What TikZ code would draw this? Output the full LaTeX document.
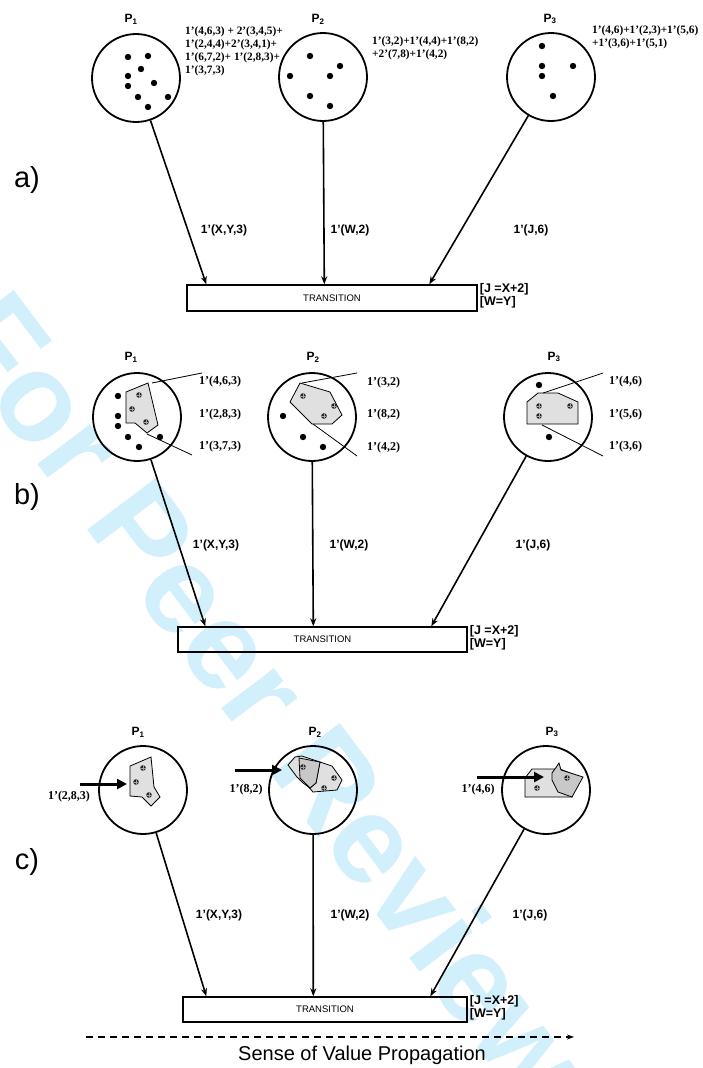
\documentclass[tikz,border=0pt]{standalone}
\usepackage{fontspec}
\setmainfont{Liberation Serif}
\setsansfont{Liberation Sans}
\usetikzlibrary{arrows.meta,calc}
\definecolor{wm}{RGB}{210,239,252}
\definecolor{shadeA}{RGB}{224,224,224}
\definecolor{shadeB}{RGB}{200,200,200}
\begin{document}
\begin{tikzpicture}[x=1pt,y=-1pt,
  place/.style={circle,draw,line width=1.8pt,minimum size=88pt,inner sep=0pt},
  trans/.style={draw,line width=1.4pt,minimum width=290pt,minimum height=26pt,inner sep=0pt,font=\sffamily\fontsize{9.5}{10}\selectfont},
  arcarrow/.style={line width=1.6pt,-{Stealth[length=8pt,width=6pt]}},
  bigarrow/.style={line width=3pt,-{Triangle[length=10pt,width=10pt]}},
  tok/.style={circle,fill=black,inner sep=0pt,minimum size=6.4pt},
  itok/.style={circle,fill=black!85,inner sep=0pt,minimum size=5.6pt,
    path picture={\draw[black!35,line width=0.5pt] (path picture bounding box.north) -- (path picture bounding box.south) (path picture bounding box.west) -- (path picture bounding box.east);}},
  poly/.style={draw,line width=0.8pt,fill=shadeA},
  polyd/.style={draw,line width=0.8pt,fill=shadeB},
  leader/.style={line width=0.8pt},
  pname/.style={font=\sffamily\bfseries\fontsize{12}{13}\selectfont},
  marking/.style={font=\bfseries\fontsize{11.3}{13}\selectfont,align=left,inner sep=0pt},
  albl/.style={font=\sffamily\bfseries\fontsize{12}{13}\selectfont,inner sep=0pt},
  guard/.style={font=\sffamily\bfseries\fontsize{12.5}{12.5}\selectfont,align=left,inner sep=0pt,anchor=north west},
  partlbl/.style={font=\sffamily\fontsize{29}{30}\selectfont,inner sep=0pt},
  tlbl/.style={font=\bfseries\fontsize{12}{13}\selectfont,inner sep=0pt,anchor=west},
  inlbl/.style={font=\bfseries\fontsize{12}{13}\selectfont,inner sep=0pt}
]
\useasboundingbox (0,0) rectangle (703,1068);
% watermark
\node[rotate=-53,text=wm,font=\sffamily\bfseries\fontsize{125}{125}\selectfont,inner sep=0pt] (wmark) at (269,697) {For Peer Review};

%================ a) ================
\node[partlbl] (la) at (27,180) {a)};
\node[place] (a1) at (136,78) {};
\node[place] (a2) at (323,77) {};
\node[place] (a3) at (551,77) {};
\node[pname] (pa1) at (131,19) {P\textsubscript{1}};
\node[pname] (pa2) at (318,19) {P\textsubscript{2}};
\node[pname] (pa3) at (550,19) {P\textsubscript{3}};
\foreach \p [count=\i] in {(128,57),(148,56),(141,69),(128,76),(154,83),(128,86),(138,97),(168,97),(148,107)}
  \node[tok] (da1\i) at \p {};
\foreach \p [count=\i] in {(310,56),(340,66),(290,76),(330,76),(310,96),(330,106)}
  \node[tok] (da2\i) at \p {};
\foreach \p [count=\i] in {(542,46),(542,66),(573,66),(542,76),(553,96)}
  \node[tok] (da3\i) at \p {};
\node[marking,anchor=north west] (ma1) at (185,26) {1’(4,6,3) + 2’(3,4,5)+\\1’(2,4,4)+2’(3,4,1)+\\1’(6,7,2)+ 1’(2,8,3)+\\1’(3,7,3)};
\node[marking,anchor=north west] (ma2) at (372,36) {1’(3,2)+1’(4,4)+1’(8,2)\\+2’(7,8)+1’(4,2)};
\node[marking,anchor=north west] (ma3) at (592,25) {1’(4,6)+1’(2,3)+1’(5,6)\\+1’(3,6)+1’(5,1)};
\node[trans] (ta) at (332,298) {TRANSITION};
\node[guard] (ga) at ([xshift=2pt,yshift=1pt]ta.north east) {{[J =X+2]}\\{[W=Y]}};
\draw[arcarrow] (a1) -- ([xshift=20pt]ta.north west);
\draw[arcarrow] (a2) -- ([xshift=138pt]ta.north west);
\draw[arcarrow] (a3) -- ([xshift=243pt]ta.north west);
\node[albl] (xa1) at (224,230) {1’(X,Y,3)};
\node[albl] (xa2) at (350,230) {1’(W,2)};
\node[albl] (xa3) at (531,230) {1’(J,6)};

%================ b) ================
\node[partlbl] (lb) at (27,497) {b)};
\node[place] (b1) at (137,417) {};
\node[place] (b2) at (312,417) {};
\node[place] (b3) at (548,417) {};
\node[pname] (pb1) at (131,357) {P\textsubscript{1}};
\node[pname] (pb2) at (313,357) {P\textsubscript{2}};
\node[pname] (pb3) at (554,357) {P\textsubscript{3}};
% P1
\draw[poly] (126,392) -- (148,383) -- (158,425) -- (147,433) -- (135,423) -- (126,423) -- cycle;
\foreach \p [count=\i] in {(139,395),(132,409),(146,422)} \node[itok] (ib1\i) at \p {};
\foreach \p [count=\i] in {(118,396),(118,416),(118,426),(128,437),(139,447),(160,437)} \node[tok] (db1\i) at \p {};
\draw[leader] (152,383) -- (202,373);
\draw[leader] (147,434) -- (192,455);
\node[tlbl] (tb11) at (199,382) {1’(4,6,3)};
\node[tlbl] (tb12) at (199,415) {1’(2,8,3)};
\node[tlbl] (tb13) at (199,447) {1’(3,7,3)};
% P2
\draw[poly] (290,402) -- (300,383) -- (330,392) -- (342,415) -- (332,424) -- (312,424) -- cycle;
\foreach \p [count=\i] in {(303,396),(334,406),(324,416)} \node[itok] (ib2\i) at \p {};
\foreach \p [count=\i] in {(283,416),(303,437),(323,447)} \node[tok] (db2\i) at \p {};
\draw[leader] (302,383) -- (357,373);
\draw[leader] (313,424) -- (357,456);
\node[tlbl] (tb21) at (367,383) {1’(3,2)};
\node[tlbl] (tb22) at (367,415) {1’(8,2)};
\node[tlbl] (tb23) at (367,448) {1’(4,2)};
% P3
\draw[poly] (527,402) -- (538,393) -- (558,393) -- (578,402) -- (578,424) -- (527,424) -- cycle;
\foreach \p [count=\i] in {(539,406),(570,406),(539,416)} \node[itok] (ib3\i) at \p {};
\foreach \p [count=\i] in {(539,385),(549,437)} \node[tok] (db3\i) at \p {};
\draw[leader] (543,393) -- (603,373);
\draw[leader] (542,425) -- (603,456);
\node[tlbl] (tb31) at (609,382) {1’(4,6)};
\node[tlbl] (tb32) at (609,415) {1’(5,6)};
\node[tlbl] (tb33) at (609,447) {1’(3,6)};
\node[trans,minimum width=289pt,minimum height=25pt] (tb) at (322.5,639.5) {TRANSITION};
\node[guard] (gb) at ([xshift=2pt,yshift=1pt]tb.north east) {{[J =X+2]}\\{[W=Y]}};
\draw[arcarrow] (b1) -- ([xshift=28pt]tb.north west);
\draw[arcarrow] (b2) -- ([xshift=136pt]tb.north west);
\draw[arcarrow] (b3) -- ([xshift=254pt]tb.north west);
\node[albl] (xb1) at (216,545) {1’(X,Y,3)};
\node[albl] (xb2) at (349,545) {1’(W,2)};
\node[albl] (xb3) at (533,545) {1’(J,6)};

%================ c) ================
\node[partlbl] (lc) at (27,862) {c)};
\node[place] (c1) at (143,790) {};
\node[place] (c2) at (313,790) {};
\node[place] (c3) at (546,790) {};
\node[pname] (pc1) at (138,732) {P\textsubscript{1}};
\node[pname] (pc2) at (315,732) {P\textsubscript{2}};
\node[pname] (pc3) at (552,732) {P\textsubscript{3}};
% P1
\draw[poly] (130,766) -- (151,757) -- (154,787) -- (160,797) -- (151,806) -- (142,797) -- (130,796) -- cycle;
\foreach \p [count=\i] in {(143,768),(136,782),(149,795)} \node[itok] (ic1\i) at \p {};
\coordinate (c1s) at (80,784);
\coordinate (c1e) at (127,784);
\draw[bigarrow] (c1s) -- (c1e);
\node[inlbl] (tc1) at (69,797) {1’(2,8,3)};
% P2
\draw[poly] (307,772) -- (320,762) -- (332,766) -- (342,780) -- (337,790) -- (313,792) -- (307,785) -- cycle;
\draw[poly] (288,765) -- (295,757) -- (302,756) -- (320,762) -- (316,783) -- (310,788) -- (303,783) -- (297,777) -- cycle;
\draw[polyd] (299,758) -- (320,762) -- (316,783) -- (310,788) -- (300,778) -- cycle;
\foreach \p [count=\i] in {(303,767),(334,778),(324,788)} \node[itok] (ic2\i) at \p {};
\coordinate (c2s) at (235,770);
\coordinate (c2e) at (282,770);
\draw[bigarrow] (c2s) -- (c2e);
\node[inlbl] (tc2) at (246,790) {1’(8,2)};
% P3
\draw[poly] (525,778) -- (532,769) -- (560,769) -- (575,775) -- (572,797) -- (525,797) -- cycle;
\draw[polyd] (552,773) -- (557,766) -- (559,763) -- (561,770) -- (583,777) -- (572,797) -- (558,792) -- (552,780) -- cycle;
\foreach \p [count=\i] in {(537,788),(567,778)} \node[itok] (ic3\i) at \p {};
\coordinate (c3s) at (477,777);
\coordinate (c3e) at (544,777);
\draw[bigarrow] (c3s) -- (c3e);
\node[inlbl] (tc3) at (478,790) {1’(4,6)};
\node[trans,minimum width=284pt,minimum height=25pt] (tc) at (325,1009.5) {TRANSITION};
\node[guard] (gc) at ([xshift=2pt,yshift=1pt]tc.north east) {{[J =X+2]}\\{[W=Y]}};
\draw[arcarrow] (c1) -- ([xshift=24pt]tc.north west);
\draw[arcarrow] (c2) -- ([xshift=131pt]tc.north west);
\draw[arcarrow] (c3) -- ([xshift=248pt]tc.north west);
\node[albl] (xc1) at (219,915) {1’(X,Y,3)};
\node[albl] (xc2) at (350,915) {1’(W,2)};
\node[albl] (xc3) at (530,915) {1’(J,6)};

% propagation
\coordinate (ps) at (86,1037);
\coordinate (pe) at (574,1037);
\draw[line width=1.5pt,dash pattern=on 7pt off 5pt,-{Stealth[length=7pt,width=5pt]}] (ps) -- (pe);
\node[font=\sffamily\fontsize{20}{22}\selectfont,inner sep=0pt] (sense) at (362,1055) {Sense of Value Propagation};
\end{tikzpicture}
\end{document}
